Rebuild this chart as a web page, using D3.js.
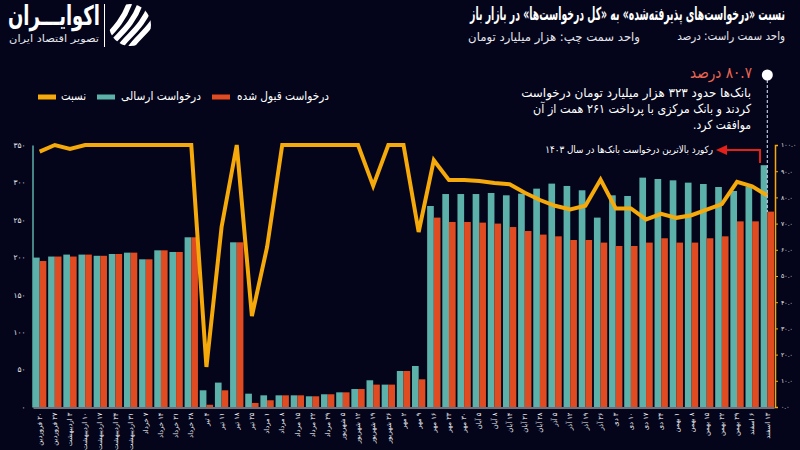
<!DOCTYPE html>
<html>
<head>
<meta charset="utf-8">
<script src="https://cdn.jsdelivr.net/npm/d3@7"></script>
<style>
html,body{margin:0;padding:0;background:#04051a;}
svg{display:block;font-family:"DejaVu Sans",sans-serif;}
</style>
</head>
<body>
<svg id="chart" width="800" height="450"></svg>
<script>
const categories = [
  "۲۰ فروردین","۲۷ فروردین","۳ اردیبهشت","۱۰ اردیبهشت","۱۷ اردیبهشت","۲۴ اردیبهشت","۳۱ اردیبهشت",
  "۷ خرداد","۱۴ خرداد","۲۱ خرداد","۲۸ خرداد",
  "۴ تیر","۱۱ تیر","۱۸ تیر","۲۵ تیر",
  "۱ مرداد","۸ مرداد","۱۵ مرداد","۲۲ مرداد","۲۹ مرداد",
  "۵ شهریور","۱۲ شهریور","۱۹ شهریور","۲۶ شهریور",
  "۲ مهر","۹ مهر","۱۶ مهر","۲۳ مهر","۳۰ مهر",
  "۵ آبان","۸ آبان","۱۴ آبان","۲۱ آبان","۲۸ آبان",
  "۵ آذر","۱۲ آذر","۱۹ آذر","۲۶ آذر",
  "۳ دی","۱۰ دی","۱۷ دی","۲۴ دی",
  "۱ بهمن","۸ بهمن","۱۵ بهمن","۲۲ بهمن","۲۹ بهمن",
  "۶ اسفند","۱۳ اسفند"
];
// درخواست ارسالی (هزار میلیارد تومان)
const sent = [199.6,201,203.6,203.6,202,204.4,206.2,197.3,209.3,207.1,226.7,
  22.3,32.6,220,17.8,15.6,15.6,15.6,14.3,17,19.6,24,35.7,29.9,48.1,54.8,
  268.5,284.5,284.5,284.5,285.9,282.8,285,291.7,298.4,295.3,289.5,253,282.8,281.9,
  306.4,304.6,302.8,299.7,297.9,293.9,288.6,294.5,323];
// درخواست قبول شده
const accepted = [195,201,201,203.6,202,204.4,206.2,197.3,209.3,207.1,226.7,
  3,22.3,220,5.4,9,15.6,15.6,14.3,17,19.6,24,29.9,29.9,48.1,37,
  253,247.2,247.2,246.3,245,240.4,235.1,230.3,228,223.1,223.1,219.6,215.1,215.1,
  219.6,225.4,219.6,219.6,225.4,228,248,248,261];
// نسبت (درصد)
const ratio = [97.5,100,98.5,100,100,100,100,100,100,100,100,
  15.3,68.7,100,34.7,61,100,100,100,100,100,100,84.4,100,100,66.8,
  94.2,86.6,86.6,86.3,85.5,85,81.8,79,76.8,75.4,76.8,86.8,75.8,75.8,
  71.6,73.7,72.2,73.2,75.3,77.4,85.9,84.2,80.7];

const leftTicks = [0,50,100,150,200,250,300,350];
const leftTickLabels = ["۰","۵۰","۱۰۰","۱۵۰","۲۰۰","۲۵۰","۳۰۰","۳۵۰"];
const rightTicks = [0,10,20,30,40,50,60,70,80,90,100];
const rightTickLabels = ["۰.۰","۱۰.۰","۲۰.۰","۳۰.۰","۴۰.۰","۵۰.۰","۶۰.۰","۷۰.۰","۸۰.۰","۹۰.۰","۱۰۰.۰"];

const seriesKeys = ["sent","accepted"];
const seriesNames = {sent:"درخواست ارسالی", accepted:"درخواست قبول شده", ratio:"نسبت"};
const colors = {sent:"#5db1ab", accepted:"#e04b22", ratio:"#f5a90a"};

const svg = d3.select("#chart");
svg.append("rect").attr("width",800).attr("height",450).attr("fill","#04051a");

const x0 = d3.scaleBand().domain(categories).range([33, 774]).paddingInner(0.12).paddingOuter(0);
const x1 = d3.scaleBand().domain(seriesKeys).range([0, x0.bandwidth()]).padding(0);
const yL = d3.scaleLinear().domain([0,350]).range([407,145]);
const yR = d3.scaleLinear().domain([0,100]).range([407,145]);

// right-aligned RTL text helper, optionally squeezed horizontally to a width
function rtext(parent, x, y, str, size, opts={}) {
  const t = parent.append("text").attr("x",0).attr("y",0)
    .attr("direction","rtl").attr("text-anchor","start")
    .attr("dominant-baseline","middle")
    .attr("fill", opts.fill || "#ffffff").attr("font-size", size)
    .attr("font-weight", opts.bold ? "bold" : "normal")
    .text(str);
  let s = 1;
  if (opts.width) {
    const w = t.node().getComputedTextLength();
    if (w > 0) s = opts.width / w;
  }
  t.attr("transform", `translate(${x},${y}) scale(${s},1)`);
  return t;
}

// bars
const rows = categories.map((c,i)=>({cat:c, sent:sent[i], accepted:accepted[i]}));
const g = svg.append("g");
g.selectAll("g.grp").data(rows).join("g").attr("class","grp")
  .attr("transform", d=>`translate(${x0(d.cat)},0)`)
  .selectAll("rect").data(d=>seriesKeys.map(k=>({k, v:d[k]}))).join("rect")
  .attr("x", d=>x1(d.k)).attr("width", x1.bandwidth())
  .attr("y", d=>yL(d.v)).attr("height", d=>yL(0)-yL(d.v))
  .attr("fill", d=>colors[d.k]);

// left axis
const axL = svg.append("g").attr("transform","translate(32.5,0)")
  .call(d3.axisLeft(yL).tickValues(leftTicks).tickFormat((d,i)=>leftTickLabels[i]).tickSize(0).tickPadding(7));
axL.select(".domain").attr("stroke", colors.sent).attr("stroke-width",1.5);
axL.selectAll("text").attr("fill","#e8e8ee").attr("font-size",7.5).attr("font-family","DejaVu Sans");

// right axis
const axR = svg.append("g").attr("transform","translate(775,0)")
  .call(d3.axisRight(yR).tickValues(rightTicks).tickFormat((d,i)=>rightTickLabels[i]).tickSize(3).tickPadding(3));
axR.select(".domain").attr("stroke", colors.ratio).attr("stroke-width",1.5);
axR.selectAll("line").attr("stroke", colors.ratio);
axR.selectAll("text").attr("fill","#e8e8ee").attr("font-size",6.2).attr("font-family","DejaVu Sans");

// x axis
const axX = svg.append("g").attr("transform","translate(0,407.5)")
  .call(d3.axisBottom(x0).tickSize(0).tickPadding(0));
axX.select(".domain").attr("stroke","#d8d8e0").attr("stroke-width",1);
axX.selectAll("text")
  .attr("fill","#f0f0f4").attr("font-size",6.8).attr("font-family","DejaVu Sans")
  .attr("direction","rtl")
  .attr("text-anchor","start")
  .attr("dy","0.32em")
  .attr("transform","translate(0,5) rotate(-90)")
  .attr("y",0).attr("x",0);

// ratio line
const line = d3.line()
  .x((d,i)=>x0(categories[i]) + x0.bandwidth()/2)
  .y(d=>yR(d));
svg.append("path").datum(ratio).attr("d", line)
  .attr("fill","none").attr("stroke", colors.ratio).attr("stroke-width",4)
  .attr("stroke-linejoin","miter").attr("stroke-miterlimit",3);

// annotation (last point)
const lastX = x0(categories[categories.length-1]) + x0.bandwidth()/2;
svg.append("line").attr("x1",lastX).attr("x2",lastX).attr("y1",80).attr("y2",212)
  .attr("stroke","#b9c6dd").attr("stroke-width",1.2).attr("stroke-dasharray","3,2");
svg.append("circle").attr("cx",lastX).attr("cy",75).attr("r",5.5).attr("fill","#ffffff");
rtext(svg, 752, 74, "۸۰.۷ درصد", 16, {fill:"#ec6652", width:62});
const noteLines = ["بانک‌ها حدود ۳۲۳ هزار میلیارد تومان درخواست","کردند و بانک مرکزی با پرداخت ۲۶۱ همت از آن","موافقت کرد."];
const noteWidths = [230, 218, 58];
noteLines.forEach((s,i)=>rtext(svg, 751, 93 + i*16, s, 12.5, {width: noteWidths[i]}));

// record arrow
svg.append("path").attr("d","M760,163 V150 H725").attr("fill","none").attr("stroke","#e5201a").attr("stroke-width",2);
svg.append("path").attr("d","M716,150 L727,145 L727,155 Z").attr("fill","#e5201a");
rtext(svg, 713, 150, "رکورد بالاترین درخواست بانک‌ها در سال ۱۴۰۳", 10, {width:168});

// legend
const legendItems = [
  {k:"ratio", sx:38, tx:86, w:25},
  {k:"sent", sx:97, tx:201, w:80},
  {k:"accepted", sx:212, tx:329, w:92}
];
const lg = svg.append("g");
legendItems.forEach(it=>{
  lg.append("rect").attr("x",it.sx).attr("y",94.5).attr("width",18).attr("height",5).attr("fill",colors[it.k]);
  rtext(lg, it.tx, 97, seriesNames[it.k], 12, {width: it.w});
});

// title & subtitle
rtext(svg, 785, 15, "نسبت «درخواست‌های پذیرفته‌شده» به «کل درخواست‌ها» در بازار باز", 18, {bold:true, width:315});
rtext(svg, 785, 37, "واحد سمت راست: درصد", 12, {fill:"#e6e6ee", width:108});
rtext(svg, 640, 37, "واحد سمت چپ: هزار میلیارد تومان", 12, {fill:"#e6e6ee", width:172});

// logo
rtext(svg, 100, 17, "اکوایـــران", 27, {bold:true, width:92});
rtext(svg, 99, 39, "تصویر اقتصاد ایران", 10, {fill:"#e6e6ee", width:90});
svg.append("line").attr("x1",104.5).attr("x2",104.5).attr("y1",4).attr("y2",47).attr("stroke","#ffffff").attr("stroke-width",1);
const defs = svg.append("defs");
defs.append("clipPath").attr("id","logoClip").append("circle").attr("cx",130).attr("cy",25).attr("r",21);
const icon = svg.append("g").attr("clip-path","url(#logoClip)");
[-16,-5,6,17].forEach(o=>{
  icon.append("path")
    .attr("d",`M${112+o},${50} C${120+o},${36} ${136+o},${30} ${146+o},${2}`)
    .attr("fill","none").attr("stroke","#ffffff").attr("stroke-width",5.5).attr("stroke-linecap","round");
});
</script>
</body>
</html>
